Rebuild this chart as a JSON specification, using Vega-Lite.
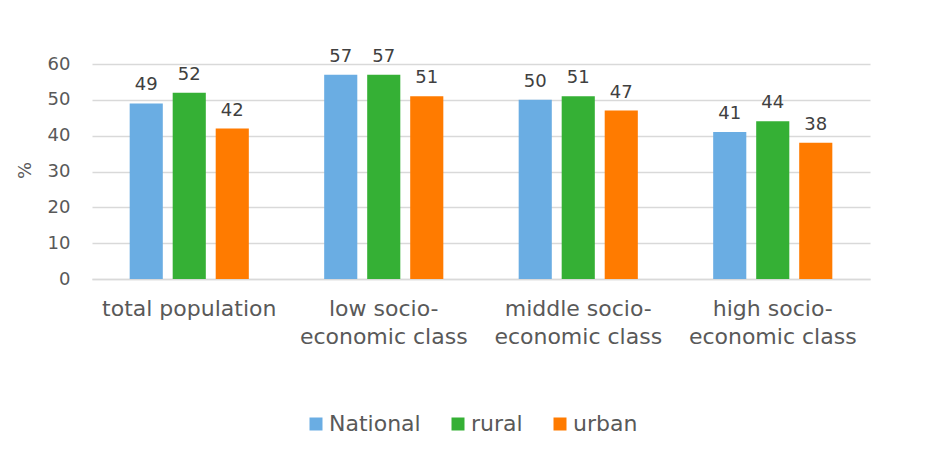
{
  "$schema": "https://vega.github.io/schema/vega-lite/v6.json",
  "autosize": "none",
  "width": 778,
  "height": 215,
  "padding": {"left": 92, "top": 64, "right": 55, "bottom": 180},
  "background": "white",
  "config": {
    "font": "DejaVu Sans",
    "view": {"stroke": null}
  },
  "data": {
    "values": [
      {"category": "total population", "series": "National", "value": 49},
      {"category": "total population", "series": "rural", "value": 52},
      {"category": "total population", "series": "urban", "value": 42},
      {"category": "low socio-|economic class", "series": "National", "value": 57},
      {"category": "low socio-|economic class", "series": "rural", "value": 57},
      {"category": "low socio-|economic class", "series": "urban", "value": 51},
      {"category": "middle socio-|economic class", "series": "National", "value": 50},
      {"category": "middle socio-|economic class", "series": "rural", "value": 51},
      {"category": "middle socio-|economic class", "series": "urban", "value": 47},
      {"category": "high socio-|economic class", "series": "National", "value": 41},
      {"category": "high socio-|economic class", "series": "rural", "value": 44},
      {"category": "high socio-|economic class", "series": "urban", "value": 38}
    ]
  },
  "encoding": {
    "x": {
      "field": "category",
      "type": "nominal",
      "sort": null,
      "scale": {"paddingInner": 0, "paddingOuter": 0},
      "axis": {
        "title": null,
        "labelAngle": 0,
        "labelExpr": "split(datum.value, '|')",
        "labelFontSize": 22,
        "labelLineHeight": 28,
        "labelColor": "#595959",
        "labelPadding": 19,
        "ticks": false,
        "domainColor": "#d9d9d9",
        "domainWidth": 1.5
      }
    },
    "xOffset": {
      "field": "series",
      "type": "nominal",
      "scale": {"paddingInner": 0.23, "paddingOuter": 0.876}
    },
    "y": {
      "field": "value",
      "type": "quantitative",
      "scale": {"domain": [0, 60], "nice": false},
      "axis": {
        "title": "%",
        "titleFontSize": 18,
        "titleFontWeight": "normal",
        "titleColor": "#595959",
        "titleX": -67,
        "titleY": 106,
        "titleAngle": -90,
        "titleAlign": "center",
        "titleBaseline": "middle",
        "values": [0, 10, 20, 30, 40, 50, 60],
        "labelFontSize": 18,
        "labelColor": "#595959",
        "labelPadding": 22,
        "ticks": false,
        "domain": false,
        "gridColor": "#d9d9d9",
        "gridWidth": 1.5
      }
    }
  },
  "layer": [
    {
      "mark": {"type": "bar"},
      "encoding": {
        "color": {
          "field": "series",
          "type": "nominal",
          "scale": {"domain": ["National", "rural", "urban"], "range": ["#6aade3", "#35b035", "#ff7b00"]},
          "legend": {
            "title": null,
            "orient": "none",
            "direction": "horizontal",
            "legendX": 213,
            "legendY": 349,
            "symbolType": "square",
            "symbolSize": 169,
            "symbolStrokeWidth": 0,
            "labelFontSize": 22,
            "labelColor": "#595959",
            "labelOffset": 2,
            "columnPadding": 26
          }
        }
      }
    },
    {
      "mark": {"type": "text", "baseline": "bottom", "dy": -9, "fontSize": 18, "color": "#404040"},
      "encoding": {
        "text": {"field": "value", "type": "quantitative"}
      }
    }
  ]
}
